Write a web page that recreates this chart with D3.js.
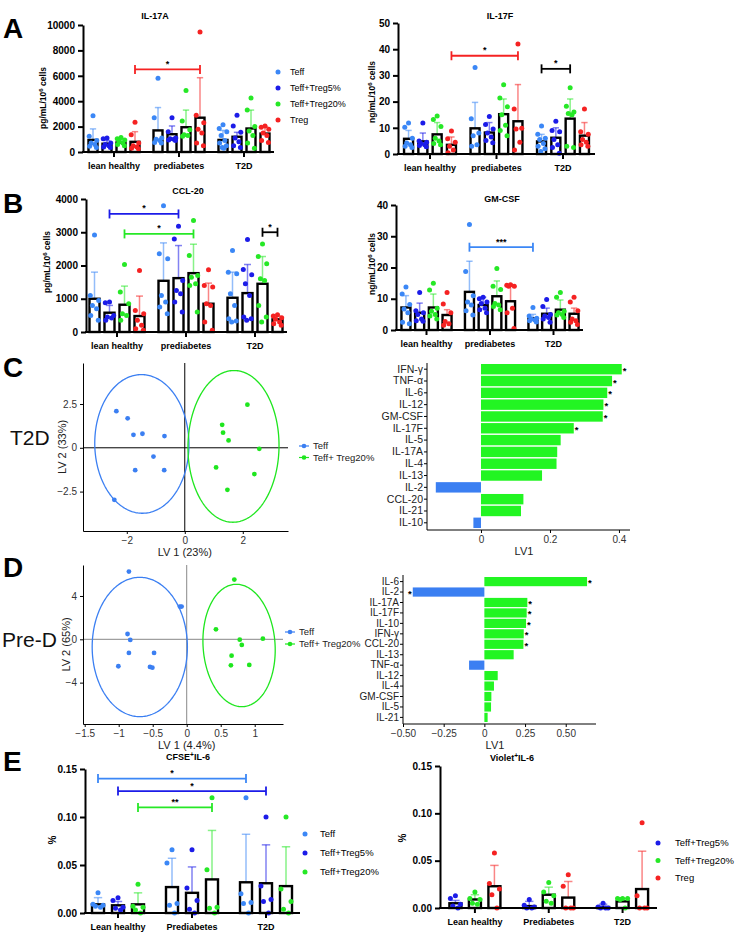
<!DOCTYPE html>
<html><head><meta charset="utf-8">
<script src="https://cdn.jsdelivr.net/npm/d3@7"></script>
<style>body{margin:0;background:#fff} svg{display:block}</style>
</head><body>
<script>
// ---------------- DATA ----------------
const groupsLower = ["lean healthy","prediabetes","T2D"];
const groupsUpper = ["Lean healthy","Prediabetes","T2D"];
const series4 = ["Teff","Teff+Treg5%","Teff+Treg20%","Treg"];
const seriesE1 = ["Teff","Teff+Treg5%","Teff+Treg20%"];
const seriesE2 = ["Teff+Treg5%","Teff+Treg20%","Treg"];
const palette = {"Teff":"#3b87f6","Teff+Treg5%":"#1c1ce8","Teff+Treg20%":"#26e826","Treg":"#f52222","black":"#000"};

// IL-17A
const il17aTicks = [0,2000,4000,6000,8000,10000];
const il17aMean = [[950,650,750,800],[1700,1400,1950,2700],[950,1200,1850,1450]];
const il17aSD = [[870,250,250,800],[1800,650,1350,3150],[750,350,1450,550]];
const il17aPts = [
 [[2850,1250,900,700,600,450,350],[1100,1050,700,600,500,400,350],[1150,1050,950,850,700,600,500],[2350,1350,700,500,400,300,250]],
 [[5800,2700,1100,1000,900,750,700],[2700,1600,1100,1050,1000,950,900],[4850,2450,1750,1350,1300,1250],[9450,2900,2300,1800,1500,700,500]],
 [[2150,1850,1600,1300,900,700,500,350,300],[2900,2050,1550,1100,800,500,350],[4250,3300,2000,1650,1300,700,300],[2050,1950,1800,1500,1300,900,750]]
];
const il17aSig = [{from:[0,3],to:[1,3],y:6500,label:"*",color:"Treg"}];

// IL-17F
const il17fTicks = [0,10,20,30,40,50];
const il17fMean = [[5.8,4.8,7.5,3.5],[9.8,8.2,15.2,12.5],[4.8,6.2,13.5,7.0]];
const il17fSD = [[3.2,3.2,4.5,3.0],[9.9,3.8,5.8,14.0],[2.7,3.8,7.5,5.0]];
const il17fPts = [
 [[11.8,10.2,6,4.2,3.5,3,2.5],[11.8,5,4.5,4,3.5,3.2,2.8],[14.5,13.2,10.5,6,5,4,3.5],[8.8,5.8,4.5,3,1.5,0.5]],
 [[33,13.5,8,7,3.5,3],[14.3,11.3,9.5,8,6.5,5.2,4.3],[26.4,21.4,18,15,11,9,7],[42,17.2,9.8,9.5,4.5,1.5]],
 [[10.7,7.5,6,5.5,4,3,2,1],[12.5,9,8.5,5.5,3.5,2.5,0.3],[25.3,18.2,16,15.5,15,3,2.5],[17.2,8.5,7.5,5.5,4.5,3.5,3]]
];
const il17fSig = [{from:[0,3],to:[1,3],y:37.5,label:"*",color:"Treg"},{from:[2,0],to:[2,2],y:32.5,label:"*",color:"black"}];

// CCL-20
const ccl20Ticks = [0,1000,2000,3000,4000];
const ccl20Mean = [[1000,580,820,480],[1540,1620,1770,850],[1030,1170,1450,380]];
const ccl20SD = [[800,220,560,600],[1140,980,870,620],[770,860,820,100]];
const ccl20Pts = [
 [[2920,1100,950,800,700,500,350],[900,880,500,450,420,350],[2030,1200,850,550,500,350],[1850,650,550,350,200,100,50]],
 [[3800,2350,2200,1100,900,750,550],[3180,2800,1550,1250,1150,900,600],[3350,2300,1700,1650,1450,1400,600],[1870,1400,1350,850,800,300,50]],
 [[2450,1800,1750,1150,800,400,330,300],[2780,1880,1720,1450,1100,450,400,350],[2650,2270,2050,1600,1550,800,450,300],[520,480,430,380,300,250,200]]
];
const ccl20Sig = [{from:[0,1],to:[1,1],y:3550,label:"*",color:"Teff+Treg5%"},{from:[0,2],to:[1,2],y:2950,label:"*",color:"Teff+Treg20%"},{from:[2,2],to:[2,3],y:3000,label:"*",color:"black"}];

// GM-CSF
const gmcsfTicks = [0,10,20,30,40];
const gmcsfMean = [[7.2,5.5,7.2,4.8],[12.2,8.0,10.8,9.2],[3.7,5.2,6.5,5.2]];
const gmcsfSD = [[3.8,3.1,4.3,1.7],[9.8,2.5,4.9,5.3],[1.3,1.8,3.1,1.8]];
const gmcsfPts = [
 [[13.8,11.5,8.2,6.7,5.5,2.5,2],[12,6.2,5.5,5,3.5,3,2.8],[15,12.8,7,6,5,4.5,3.5],[12,8.3,5.5,2.7,2,1.5]],
 [[33.8,18.7,11,9,8,6.2,4.8],[10.5,10,9,8.5,7,6.5,5.5],[19.7,14,13,8.5,8,7.5,6.5],[14.5,14.3,14,14,7,5.5,0.5]],
 [[7.2,4.5,3.8,3.5,3.2,3,2.6],[9.8,7.5,5,4.5,4,3.5,2.5],[12,10.5,6,5.5,5,4.8,4],[10.5,9,6.2,3.5,3,2.5,1.8]]
];
const gmcsfSig = [{from:[1,0],to:[2,0],y:26.5,label:"***",color:"Teff"}];

// CFSE+IL-6
const pctTicks = [0,0.05,0.10,0.15];
const cfseMean = [[0.009,0.008,0.009],[0.027,0.021,0.035],[0.032,0.031,0.028]];
const cfseSD = [[0.007,0.004,0.012],[0.030,0.027,0.051],[0.050,0.040,0.041]];
const cfsePts = [
 [[0.021,0.009,0.008,0.007,0.006],[0.016,0.013,0.006,0.005,0.003],[0.030,0.007,0.006,0.003,0.0]],
 [[0.066,0.052,0.010,0.008,0.0],[0.066,0.026,0.013,0.004,0.0],[0.12,0.045,0.006,0.005,0.0]],
 [[0.12,0.020,0.011,0.010,0.0],[0.10,0.028,0.014,0.012,0.0],[0.10,0.025,0.012,0.004,0.0]]
];
const cfseSig = [{from:[0,0],to:[2,0],y:0.14,label:"*",color:"Teff"},{from:[0,1],to:[2,1],y:0.127,label:"*",color:"Teff+Treg5%"},{from:[0,2],to:[1,2],y:0.11,label:"**",color:"Teff+Treg20%"}];

// Violet+IL-6
const violetMean = [[0.005,0.009,0.023],[0.002,0.014,0.011],[0.001,0.007,0.020]];
const violetSD = [[0.003,0.005,0.022],[0.005,0.008,0.017],[0.003,0.003,0.040]];
const violetPts = [
 [[0.013,0.010,0.004,0.002,0.0],[0.017,0.010,0.009,0.005,0.004],[0.058,0.026,0.020,0.014,0.0]],
 [[0.009,0.003,0.001,0.0,0.0],[0.027,0.017,0.013,0.007,0.005],[0.035,0.023,0.0,0.0,0.0]],
 [[0.005,0.001,0.0,0.0,0.0],[0.010,0.010,0.010,0.009,0.0],[0.090,0.013,0.0,0.0,0.0]]
];

// PLS-DA T2D
const plsColors = {"Teff":"#3b7ff2","Teff+ Treg20%":"#1ee61e"};
const cTeffX = [-2.36,-1.97,-1.77,-1.46,-0.70,-1.08,-1.71,-0.71,-2.43];
const cTeffY = [2.09,1.68,0.74,0.80,0.67,-0.50,-1.28,-1.28,-2.97];
const cTregX = [2.16,1.29,1.32,1.51,2.57,1.08,2.40,1.47];
const cTregY = [2.46,1.31,0.86,0.42,-0.06,-1.12,-1.50,-2.40];
const cLoadCats = ["IFN-γ","TNF-α","IL-6","IL-12","GM-CSF","IL-17F","IL-5","IL-17A","IL-4","IL-13","IL-2","CCL-20","IL-21","IL-10"];
const cLoadVals = [0.408,0.380,0.366,0.355,0.353,0.269,0.231,0.221,0.219,0.177,-0.131,0.123,0.116,-0.022];
const cLoadSig = [1,1,1,1,1,1,0,0,0,0,0,0,0,0];

// PLS-DA Pre-D
const dTeffX = [-0.85,-0.10,-0.075,-0.87,-0.83,-0.85,-0.48,-1.005,-0.54,-0.505];
const dTeffY = [6.25,3.02,3.02,0.49,-0.06,-1.26,-1.26,-2.49,-2.55,-2.62];
const dTregX = [0.70,0.43,0.78,1.12,0.81,0.66,0.65,0.92];
const dTregY = [5.51,0.92,-0.03,0.06,-0.52,-1.51,-2.40,-2.37];
const dLoadCats = ["IL-6","IL-2","IL-17A","IL-17F","IL-10","IFN-γ","CCL-20","IL-13","TNF-α","IL-12","IL-4","GM-CSF","IL-5","IL-21"];
const dLoadVals = [0.631,-0.44,0.264,0.26,0.256,0.242,0.24,0.18,-0.094,0.082,0.059,0.043,0.041,0.02];
const dLoadSig = [1,1,1,1,1,1,1,0,0,0,0,0,0,0];

// ---------------- DRAW ----------------
const FONT = "'Liberation Sans', Arial, Helvetica, sans-serif";
const fig = d3.select("body").append("svg").attr("width",736).attr("height",933)
  .attr("font-family",FONT);

function richText(sel, parts){
  let shifted = false;
  parts.forEach(([t, sup]) => {
    const ts = sel.append("tspan").text(t);
    if (sup) { ts.attr("dy",-3.5).attr("font-size","0.72em"); shifted = true; }
    else if (shifted) { ts.attr("dy",3.5); shifted = false; }
  });
}

function groupedBar(c){
  const g = fig.append("g");
  const y = d3.scaleLinear().domain([0,c.yMax]).range([c.yZero,c.yTop]);
  const gx = d3.scaleBand().domain(c.groups).range(c.groupRange);
  const n = c.series.length;
  const px = (gi,si) => gx(c.groups[gi]) + gx.bandwidth()/2 + (si-(n-1)/2)*c.step;
  const recs = [];
  c.groups.forEach((gn,gi)=>c.series.forEach((s,si)=>recs.push({gi,si,s,mean:c.means[gi][si],sd:c.sds[gi][si],pts:c.pts[gi][si]})));
  // error bars
  const eb = g.append("g").selectAll("g").data(recs).join("g")
    .attr("stroke",d=>palette[d.s]).attr("stroke-opacity",0.55).attr("stroke-width",1.5);
  eb.append("line").attr("x1",d=>px(d.gi,d.si)).attr("x2",d=>px(d.gi,d.si))
    .attr("y1",d=>y(d.mean)).attr("y2",d=>y(d.mean+d.sd));
  eb.append("line").attr("x1",d=>px(d.gi,d.si)-c.barW*0.35).attr("x2",d=>px(d.gi,d.si)+c.barW*0.35)
    .attr("y1",d=>y(d.mean+d.sd)).attr("y2",d=>y(d.mean+d.sd));
  // bars
  g.append("g").selectAll("rect").data(recs).join("rect")
    .attr("x",d=>px(d.gi,d.si)-c.barW/2).attr("width",c.barW)
    .attr("y",d=>y(d.mean)).attr("height",d=>y(0)-y(d.mean))
    .attr("fill","#fff").attr("stroke","#000").attr("stroke-width",2.4);
  // points
  const pat = [0,-1,1,-0.5,0.5,-0.9,0.9,-0.2,0.2];
  recs.forEach(d=>{
    const sorted = d.pts.slice().sort((a,b)=>b-a);
    g.append("g").selectAll("circle").data(sorted).join("circle")
      .attr("cx",(v,i)=>px(d.gi,d.si)+pat[i%pat.length]*c.barW*0.42)
      .attr("cy",v=>y(v)).attr("r",c.r||2.5).attr("fill",palette[d.s]);
  });
  // y axis
  const yg = g.append("g").attr("transform",`translate(${c.x0},0)`)
    .call(d3.axisLeft(y).tickValues(c.ticks).tickFormat(c.fmt||d3.format("d")).tickSize(5).tickSizeOuter(0).tickPadding(3));
  yg.selectAll("path,line").attr("stroke","#000").attr("stroke-width",2);
  yg.selectAll("text").attr("font-size",10).attr("font-weight","bold").attr("fill","#000").attr("font-family",FONT);
  // x axis
  const xg = g.append("g").attr("transform",`translate(0,${c.yZero})`)
    .call(d3.axisBottom(gx).tickSize(5).tickSizeOuter(0).tickPadding(6));
  xg.select(".domain").remove();
  xg.selectAll("line").attr("stroke","#000").attr("stroke-width",2);
  xg.selectAll("text").attr("font-size",9).attr("font-weight","bold").attr("fill","#000").attr("font-family",FONT).attr("dy",c.catDy||"0.71em");
  g.append("line").attr("x1",c.x0-1).attr("x2",c.x1).attr("y1",c.yZero).attr("y2",c.yZero)
    .attr("stroke","#000").attr("stroke-width",2);
  // significance brackets
  (c.sig||[]).forEach(b=>{
    const xa = px(b.from[0],b.from[1]), xb = px(b.to[0],b.to[1]), yy = y(b.y);
    const col = palette[b.color];
    const bg = g.append("g").attr("stroke",col).attr("stroke-width",1.8);
    bg.append("line").attr("x1",xa).attr("x2",xb).attr("y1",yy).attr("y2",yy);
    bg.append("line").attr("x1",xa).attr("x2",xa).attr("y1",yy-4.5).attr("y2",yy+4.5);
    bg.append("line").attr("x1",xb).attr("x2",xb).attr("y1",yy-4.5).attr("y2",yy+4.5);
    g.append("text").attr("x",(xa+xb)/2).attr("y",yy-2.5).attr("text-anchor","middle")
      .attr("font-size",9).attr("font-weight","bold").text(b.label);
  });
  // title
  const t = g.append("text").attr("x",c.titleX).attr("y",c.titleY).attr("text-anchor","middle")
    .attr("font-size",9).attr("font-weight","bold");
  richText(t,c.title);
  // y label
  const yl = g.append("text").attr("transform",`translate(${c.ylabX},${c.ylabY}) rotate(-90)`)
    .attr("text-anchor","middle").attr("font-size",c.ylabSize||8.5).attr("font-weight","bold");
  richText(yl,c.ylab);
  // legend
  if (c.legend){
    c.legend.items.forEach((s,i)=>{
      const yy = c.legend.y + i*c.legend.dy;
      g.append("circle").attr("cx",c.legend.x).attr("cy",yy).attr("r",2.5).attr("fill",palette[s]);
      g.append("text").attr("x",c.legend.x+c.legend.tx).attr("y",yy+3.3).attr("font-size",c.legend.fs).text(s);
    });
  }
}

groupedBar({groups:groupsLower,series:series4,means:il17aMean,sds:il17aSD,pts:il17aPts,sig:il17aSig,
  yMax:10000,ticks:il17aTicks,x0:83,x1:274,yZero:152,yTop:25,groupRange:[81.5,276.5],step:14,barW:9,
  title:[["IL-17A"]],titleX:155,titleY:18.5,ylab:[["pg/mL/10"],["6",true],[" cells"]],ylabX:46,ylabY:98,
  legend:{items:series4,x:278,y:72,dy:16,tx:12,fs:9}});
groupedBar({groups:groupsLower,series:series4,means:il17fMean,sds:il17fSD,pts:il17fPts,sig:il17fSig,
  yMax:50,ticks:il17fTicks,x0:398,x1:595,yZero:154,yTop:23,groupRange:[396.75,596.25],step:14.3,barW:9,
  title:[["IL-17F"]],titleX:500,titleY:18.5,ylab:[["ng/mL/10"],["6",true],[" cells"]],ylabX:375,ylabY:92});
groupedBar({groups:groupsLower,series:series4,means:ccl20Mean,sds:ccl20SD,pts:ccl20Pts,sig:ccl20Sig,
  yMax:4000,ticks:ccl20Ticks,x0:86,x1:287,yZero:332,yTop:199,groupRange:[82.5,289.5],step:15,barW:10,
  title:[["CCL-20"]],titleX:188,titleY:193.5,ylab:[["pg/mL/10"],["6",true],[" cells"]],ylabX:50,ylabY:262});
groupedBar({groups:groupsLower,series:series4,means:gmcsfMean,sds:gmcsfSD,pts:gmcsfPts,sig:gmcsfSig,
  yMax:40,ticks:gmcsfTicks,x0:396,x1:583,yZero:330,yTop:205,groupRange:[394.75,585.25],step:13.7,barW:9,
  title:[["GM-CSF"]],titleX:502,titleY:201.5,ylab:[["ng/mL/10"],["6",true],[" cells"]],ylabX:375,ylabY:264});
groupedBar({groups:groupsUpper,series:seriesE1,means:cfseMean,sds:cfseSD,pts:cfsePts,sig:cfseSig,
  yMax:0.15,ticks:pctTicks,fmt:d3.format(".2f"),x0:85,x1:300,yZero:913,yTop:769,groupRange:[81,303],step:20,barW:12,
  title:[["CFSE"],["+",true],["IL-6"]],titleX:188,titleY:760,ylab:[["%"]],ylabX:56,ylabY:840,ylabSize:10,
  legend:{items:seriesE1,x:305,y:834,dy:19,tx:15,fs:9.5}});
groupedBar({groups:groupsUpper,series:seriesE2,means:violetMean,sds:violetSD,pts:violetPts,
  yMax:0.15,ticks:pctTicks,fmt:d3.format(".2f"),x0:440,x1:657,yZero:908,yTop:766,groupRange:[438,659.5],step:19.5,barW:12,
  title:[["Violet"],["+",true],["IL-6"]],titleX:512,titleY:761,ylab:[["%"]],ylabX:406,ylabY:838,ylabSize:10,
  legend:{items:seriesE2,x:658,y:843,dy:17.5,tx:17,fs:9.5}});

// ---- PLS-DA scores ----
const fmtNum = v => v===0 ? "0" : String(v).replace("-","\u2212");
function plsScatter(c){
  const g = fig.append("g");
  const x = d3.scaleLinear().domain(c.xDom).range([c.left,c.right]);
  const y = d3.scaleLinear().domain(c.yDom).range([c.bottom,c.top]);
  g.append("line").attr("x1",x(c.xDom[0])).attr("x2",x(c.xDom[1])).attr("y1",y(0)).attr("y2",y(0))
    .attr("stroke",c.zeroColor).attr("stroke-width",1);
  g.append("line").attr("x1",x(0)).attr("x2",x(0)).attr("y1",y(c.yDom[0])).attr("y2",y(c.yDom[1]))
    .attr("stroke",c.zeroColor).attr("stroke-width",1);
  c.ellipses.forEach(e=>{
    const ts = d3.range(0,2*Math.PI+0.02,Math.PI/120);
    const ln = d3.line().x(t=>x(e.cx+e.rx*Math.cos(t)+e.k*Math.sin(t))).y(t=>y(e.cy+e.ry*Math.sin(t)+e.ky*Math.cos(t)));
    g.append("path").attr("d",ln(ts)).attr("fill","none").attr("stroke",plsColors[e.s]).attr("stroke-width",1.3);
  });
  c.sets.forEach(st=>{
    g.append("g").selectAll("circle").data(st.xs).join("circle")
      .attr("cx",d=>x(d)).attr("cy",(d,i)=>y(st.ys[i])).attr("r",2.4).attr("fill",plsColors[st.s]);
  });
  const ya = g.append("g").attr("transform",`translate(${c.left},0)`)
    .call(d3.axisLeft(y).tickValues(c.yTicks).tickFormat(fmtNum).tickSize(3).tickSizeOuter(0).tickPadding(3));
  const xa = g.append("g").attr("transform",`translate(0,${c.bottom})`)
    .call(d3.axisBottom(x).tickValues(c.xTicks).tickFormat(fmtNum).tickSize(3).tickSizeOuter(0).tickPadding(3));
  [ya,xa].forEach(a=>{
    a.selectAll("path,line").attr("stroke","#000").attr("stroke-width",1);
    a.selectAll("text").attr("font-size",10).attr("fill","#333").attr("font-family",FONT);
  });
  g.append("text").attr("x",x(0)).attr("y",c.bottom+25).attr("text-anchor","middle").attr("font-size",11).attr("fill","#222").text(c.xlab);
  g.append("text").attr("transform",`translate(${c.ylabX},${(c.top+c.bottom)/2}) rotate(-90)`)
    .attr("text-anchor","middle").attr("font-size",11).attr("fill","#222").text(c.ylab);
  g.append("text").attr("x",c.bigX).attr("y",c.bigY).attr("font-size",21).attr("fill","#111").text(c.big);
  c.sets.forEach((st,i)=>{
    const yy = c.legY + i*c.legDy;
    g.append("line").attr("x1",c.legX-5).attr("x2",c.legX+5).attr("y1",yy).attr("y2",yy).attr("stroke",plsColors[st.s]).attr("stroke-width",1.2);
    g.append("circle").attr("cx",c.legX).attr("cy",yy).attr("r",2.3).attr("fill",plsColors[st.s]);
    g.append("text").attr("x",c.legX+9).attr("y",yy+3.4).attr("font-size",9.5).attr("fill","#222").text(st.s);
  });
}
plsScatter({left:83,right:288,top:363,bottom:531,xDom:[-3.51,3.56],yDom:[-4.75,4.84],
  xTicks:[-2,0,2],yTicks:[-2.5,0,2.5],zeroColor:"#000",
  ellipses:[{s:"Teff",cx:-1.48,cy:0.22,rx:1.62,ry:3.95,k:-0.12,ky:0.25},{s:"Teff+ Treg20%",cx:1.68,cy:0.08,rx:1.57,ry:4.33,k:0.02,ky:0}],
  sets:[{s:"Teff",xs:cTeffX,ys:cTeffY},{s:"Teff+ Treg20%",xs:cTregX,ys:cTregY}],
  xlab:"LV 1 (23%)",ylab:"LV 2 (33%)",ylabX:66,big:"T2D",bigX:10,bigY:445,legX:304,legY:446,legDy:11.5});
plsScatter({left:83,right:283,top:565,bottom:724,xDom:[-1.525,1.416],yDom:[-7.82,6.86],
  xTicks:[-1.5,-1,-0.5,0,0.5,1],yTicks:[-4,0,4],zeroColor:"#888",
  ellipses:[{s:"Teff",cx:-0.69,cy:-0.71,rx:0.70,ry:6.43,k:0,ky:0},{s:"Teff+ Treg20%",cx:0.77,cy:-0.57,rx:0.53,ry:5.65,k:-0.04,ky:0}],
  sets:[{s:"Teff",xs:dTeffX,ys:dTeffY},{s:"Teff+ Treg20%",xs:dTregX,ys:dTregY}],
  xlab:"LV 1 (4.4%)",ylab:"LV 2 (65%)",ylabX:70,big:"Pre-D",bigX:2,bigY:647,legX:290,legY:632,legDy:12});

// ---- PLS loadings ----
function plsBars(c){
  const g = fig.append("g");
  const x = d3.scaleLinear().domain(c.xDom).range([c.left,c.right]);
  const y = d3.scaleBand().domain(c.cats).range(c.band).paddingInner(0.12).paddingOuter(0);
  const data = c.cats.map((k,i)=>({k,v:c.vals[i],s:c.sig[i]}));
  g.append("g").selectAll("rect").data(data).join("rect")
    .attr("x",d=>x(Math.min(0,d.v))).attr("width",d=>Math.abs(x(d.v)-x(0)))
    .attr("y",d=>y(d.k)).attr("height",y.bandwidth())
    .attr("fill",d=>d.v>=0?"#22f522":"#3b7ff2");
  g.append("g").selectAll("text").data(data.filter(d=>d.s)).join("text")
    .attr("x",d=>d.v>=0?x(d.v)+1:x(d.v)-1).attr("y",d=>y(d.k)+y.bandwidth()/2+4.5)
    .attr("text-anchor",d=>d.v>=0?"start":"end").attr("font-size",9.5).attr("font-weight","bold").text("*");
  const ya = g.append("g").attr("transform",`translate(${c.left},0)`)
    .call(d3.axisLeft(y).tickSize(3).tickSizeOuter(0).tickPadding(1));
  ya.select(".domain").remove();
  g.append("line").attr("x1",c.left).attr("x2",c.left).attr("y1",c.top).attr("y2",c.bottom).attr("stroke","#000");
  const xa = g.append("g").attr("transform",`translate(0,${c.bottom})`)
    .call(d3.axisBottom(x).tickValues(c.xTicks).tickFormat(c.fmt).tickSize(3).tickSizeOuter(0).tickPadding(3));
  xa.select(".domain").remove();
  g.append("line").attr("x1",c.left).attr("x2",c.right).attr("y1",c.bottom).attr("y2",c.bottom).attr("stroke","#000");
  [ya,xa].forEach(a=>{
    a.selectAll("line").attr("stroke","#000");
    a.selectAll("text").attr("font-size",c.catSize).attr("fill","#222").attr("font-family",FONT);
  });
  xa.selectAll("text").attr("font-size",10).attr("fill","#333");
  g.append("text").attr("x",c.labX).attr("y",c.bottom+25).attr("text-anchor","middle").attr("font-size",11).attr("fill","#222").text("LV1");
}
plsBars({cats:cLoadCats,vals:cLoadVals,sig:cLoadSig,left:427,right:630,top:363,bottom:530,band:[364,528],catSize:10.5,
  xDom:[-0.1565,0.432],xTicks:[0,0.2,0.4],fmt:v=>v===0?"0":d3.format(".1f")(v),labX:524});
plsBars({cats:dLoadCats,vals:dLoadVals,sig:dLoadSig,left:403,right:596,top:575,bottom:724,band:[577,722],catSize:10,
  xDom:[-0.5,0.686],xTicks:[-0.5,-0.25,0,0.25,0.5],fmt:v=>v===0?"0":d3.format(".2f")(v),labX:495});

// panel letters
const letters = ["A","B","C","D","E"];
const letterY = [38,213,377,577,771];
fig.selectAll("text.panel").data(letters).join("text").attr("class","panel")
  .attr("x",3).attr("y",(d,i)=>letterY[i]).attr("font-size",28).attr("font-weight","bold").text(d=>d);
</script>
</body></html>
